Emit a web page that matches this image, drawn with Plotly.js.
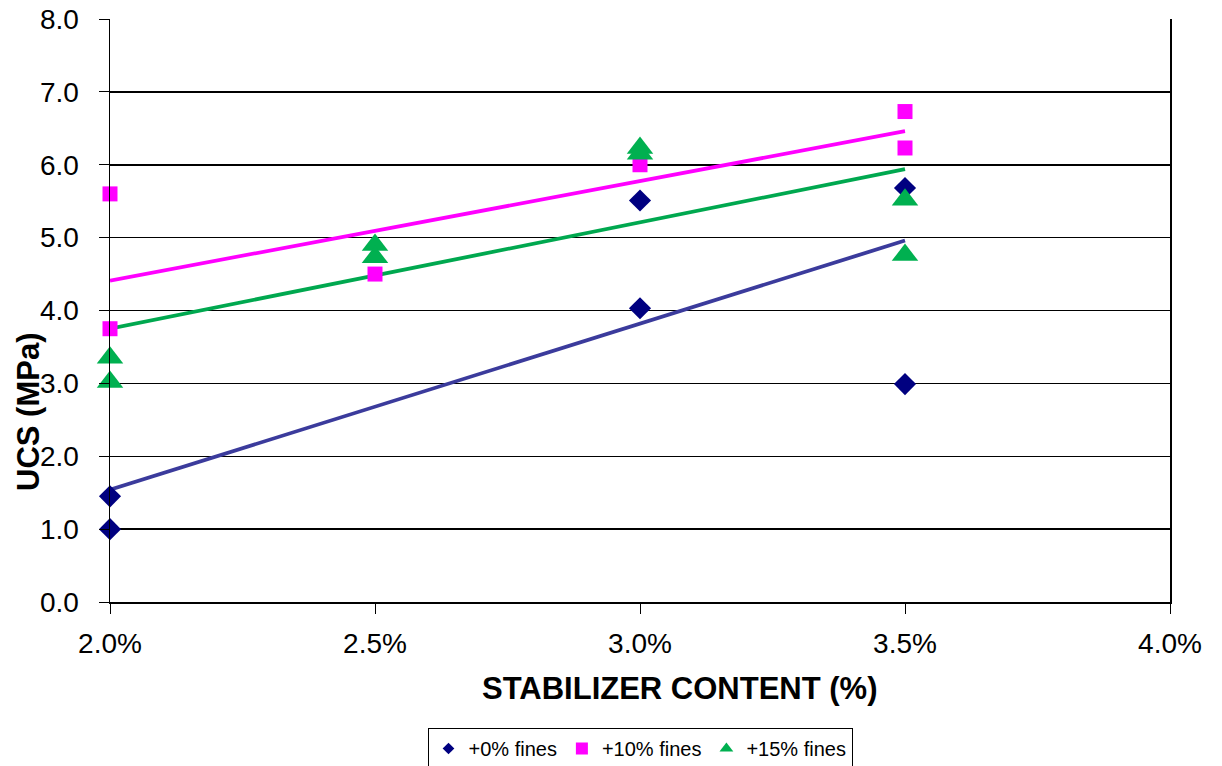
<!DOCTYPE html>
<html>
<head>
<meta charset="utf-8">
<script src="https://cdn.plot.ly/plotly-3.0.1.min.js"></script>
<style>
  html, body { margin: 0; padding: 0; background: #ffffff; }
  #chart { width: 1222px; height: 766px; }
</style>
</head>
<body>
<div id="chart"></div>
<script>
// Stabilizer content (fraction) and measured UCS (MPa) per fines series
const fines0X  = [0.020, 0.020, 0.030, 0.030, 0.035, 0.035];
const fines0Y  = [1.45, 1.00, 5.51, 4.03, 5.68, 2.99];

const fines10X = [0.020, 0.020, 0.025, 0.030, 0.035, 0.035];
const fines10Y = [5.60, 3.75, 4.50, 6.00, 6.73, 6.23];

const fines15X = [0.020, 0.020, 0.025, 0.025, 0.030, 0.030, 0.035, 0.035];
const fines15Y = [3.35, 3.02, 4.90, 4.73, 6.23, 6.15, 5.52, 4.76];

// Linear trendline end points (MPa) over 2.0% - 3.5%
const trendX   = [0.020, 0.035];
const trend0   = [1.54, 4.96];
const trend10  = [4.41, 6.46];
const trend15  = [3.75, 5.94];

const seriesNames = ['+0% fines', '+10% fines', '+15% fines'];
const xTicks = [0.020, 0.025, 0.030, 0.035, 0.040];
const yTicks = [0, 1, 2, 3, 4, 5, 6, 7, 8];

const navy = '#000080', magenta = '#FF00FF', green = '#00B050';
const navyLine = '#3B3B9C', greenLine = '#00A84F';

const font = 'Liberation Sans, Arial, sans-serif';

const traces = [
  // trendlines drawn first so markers sit on top
  { x: trendX, y: trend0,  mode: 'lines', line: { color: navyLine, width: 3.8 }, showlegend: false, hoverinfo: 'skip' },
  { x: trendX, y: trend10, mode: 'lines', line: { color: magenta,  width: 3.8 }, showlegend: false, hoverinfo: 'skip' },
  { x: trendX, y: trend15, mode: 'lines', line: { color: greenLine, width: 3.8 }, showlegend: false, hoverinfo: 'skip' },

  { x: fines0X,  y: fines0Y,  mode: 'markers', name: seriesNames[0], showlegend: false, cliponaxis: false,
    marker: { symbol: 'diamond', size: 17, color: navy } },
  { x: fines10X, y: fines10Y, mode: 'markers', name: seriesNames[1], showlegend: false, cliponaxis: false,
    marker: { symbol: 'square', size: 15, color: magenta } },
  { x: fines15X, y: fines15Y, mode: 'markers', name: seriesNames[2], showlegend: false, cliponaxis: false,
    marker: { symbol: 'triangle-up', size: 23, color: green } },

  // legend entries with small symbols
  { x: [null], y: [null], mode: 'markers', name: seriesNames[0], marker: { symbol: 'diamond', size: 9, color: navy } },
  { x: [null], y: [null], mode: 'markers', name: seriesNames[1], marker: { symbol: 'square', size: 12, color: magenta } },
  { x: [null], y: [null], mode: 'markers', name: seriesNames[2], marker: { symbol: 'triangle-up', size: 12, color: green } }
];

const layout = {
  width: 1222,
  height: 766,
  paper_bgcolor: '#ffffff',
  plot_bgcolor: '#ffffff',
  margin: { l: 110, r: 52, t: 19, b: 164 },
  font: { family: font, color: '#000000' },
  xaxis: {
    range: [0.020, 0.040],
    tickvals: xTicks,
    tickformat: '.1%',
    ticks: 'outside',
    ticklen: 10,
    tickcolor: '#000000',
    tickfont: { family: font, size: 28, color: '#000000' },
    ticklabelstandoff: 6,
    showgrid: false,
    zeroline: false,
    showline: true,
    linecolor: '#000000',
    linewidth: 1.5
  },
  yaxis: {
    range: [0, 8],
    tickvals: yTicks,
    tickformat: '.1f',
    ticks: 'outside',
    ticklen: 10,
    tickcolor: '#000000',
    tickfont: { family: font, size: 28, color: '#000000' },
    ticklabelstandoff: 14,
    showgrid: true,
    gridcolor: '#000000',
    gridwidth: 1.5,
    zeroline: false,
    showline: true,
    mirror: true,
    linecolor: '#000000',
    linewidth: 1.5
  },
  annotations: [
    {
      text: '<b>STABILIZER CONTENT (%)</b>',
      xref: 'paper', yref: 'paper',
      x: 570 / 1060, y: -86 / 583,
      xanchor: 'center', yanchor: 'middle',
      showarrow: false,
      font: { family: font, size: 31, color: '#000000' }
    },
    {
      text: '<b>UCS (MPa)</b>',
      textangle: -90,
      xref: 'paper', yref: 'paper',
      x: -82 / 1060, y: 190 / 583,
      xanchor: 'center', yanchor: 'middle',
      showarrow: false,
      font: { family: font, size: 31, color: '#000000' }
    }
  ],
  showlegend: true,
  legend: {
    orientation: 'h',
    x: 0.5,
    xanchor: 'center',
    yref: 'container',
    y: 38 / 766,
    yanchor: 'top',
    bordercolor: '#000000',
    borderwidth: 1,
    bgcolor: '#ffffff',
    font: { family: font, size: 20, color: '#000000' },
    itemwidth: 30,
    tracegroupgap: 0
  }
};

Plotly.newPlot('chart', traces, layout, { displayModeBar: false, staticPlot: true });
</script>
</body>
</html>
